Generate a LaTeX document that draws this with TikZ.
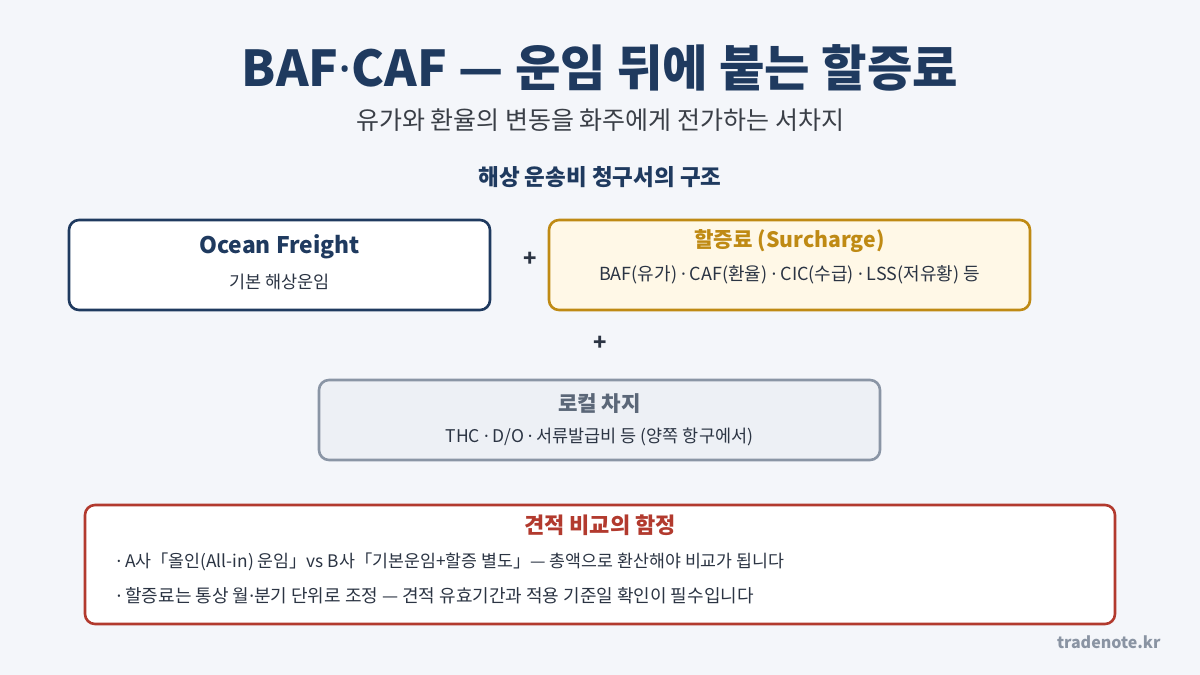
\documentclass[tikz,border=0pt]{standalone}
\usepackage{fontspec}
\setmainfont{Noto Sans CJK KR}
\newfontfamily\lat{Noto Sans}
\newcommand{\md}{{\lat ·}}
\definecolor{bg}{HTML}{F4F6FA}
\definecolor{navy}{HTML}{1F3A5F}
\definecolor{txt}{HTML}{2B3443}
\definecolor{gold}{HTML}{BF8A14}
\definecolor{goldfill}{HTML}{FFF8E7}
\definecolor{grayb}{HTML}{8A95A5}
\definecolor{grayfill}{HTML}{EDF0F5}
\definecolor{graytxt}{HTML}{5B6778}
\definecolor{redb}{HTML}{B23A2E}
\definecolor{sub}{HTML}{3A3F47}
\definecolor{mark}{HTML}{8A94A3}
\tikzset{
  card/.style={rounded corners=10pt, line width=2.6pt},
  ttl/.style={anchor=center},
  body/.style={font=\fontsize{17.5}{20}\selectfont, text=txt, anchor=center},
  plus/.style={font=\bfseries\fontsize{22}{24}\selectfont, text=txt},
}
\begin{document}
\begin{tikzpicture}[x=1pt,y=-1pt]
\fill[bg] (0,0) rectangle (1200,675);
\useasboundingbox (0,0) rectangle (1200,675);
\node[font=\bfseries\fontsize{49.4}{54}\selectfont, text=navy] (title) at (600,68) {BAF\md CAF — 운임 뒤에 붙는 할증료};
\node[font=\fontsize{25}{28}\selectfont, text=sub] (subtitle) at (600,120) {유가와 환율의 변동을 화주에게 전가하는 서차지};
\node[font=\bfseries\fontsize{22.5}{26}\selectfont, text=navy] (sect) at (600,177) {해상 운송비 청구서의 구조};

\draw[card, draw=navy, fill=white] (69,220) rectangle (490,310);
\node[ttl, text=navy, font=\bfseries\fontsize{22.8}{26}\selectfont] (oft) at (279.5,247) {Ocean Freight};
\node[body] (ofs) at (279.5,282) {기본 해상운임};

\node[plus] (p1) at (530,259) {+};

\draw[card, draw=gold, fill=goldfill] (549,220) rectangle (1030,310);
\node[ttl, text=gold, font=\bfseries\fontsize{21.2}{24}\selectfont] (sct) at (789.5,241) {할증료 (Surcharge)};
\node[body, font=\fontsize{18}{20}\selectfont] (scs) at (789.5,275) {BAF(유가) \md{} CAF(환율) \md{} CIC(수급) \md{} LSS(저유황) 등};

\node[plus] (p2) at (600,343) {+};

\draw[card, draw=grayb, fill=grayfill] (319,380) rectangle (880,460);
\node[ttl, text=graytxt, font=\bfseries\fontsize{21.2}{24}\selectfont] (lct) at (599.5,404) {로컬 차지};
\node[body] (lcs) at (599.5,437) {THC \md{} D/O \md{} 서류발급비 등 (양쪽 항구에서)};

\draw[card, draw=redb, fill=white] (85,505) rectangle (1115,624);
\node[ttl, text=redb, font=\bfseries\fontsize{22}{24}\selectfont] (trt) at (600,525) {견적 비교의 함정};
\node[body, anchor=west, font=\fontsize{17.3}{20}\selectfont] (b1) at (113,562) {\md{} A사「올인(All-in) 운임」vs B사「기본운임+할증 별도」— 총액으로 환산해야 비교가 됩니다};
\node[body, anchor=west, font=\fontsize{18}{20}\selectfont] (b2) at (113,596) {\md{} 할증료는 통상 월\md 분기 단위로 조정 — 견적 유효기간과 적용 기준일 확인이 필수입니다};

\node[font=\bfseries\fontsize{16}{20}\selectfont, text=mark, anchor=east] (brand) at (1164,642) {tradenote.kr};
\end{tikzpicture}
\end{document}
